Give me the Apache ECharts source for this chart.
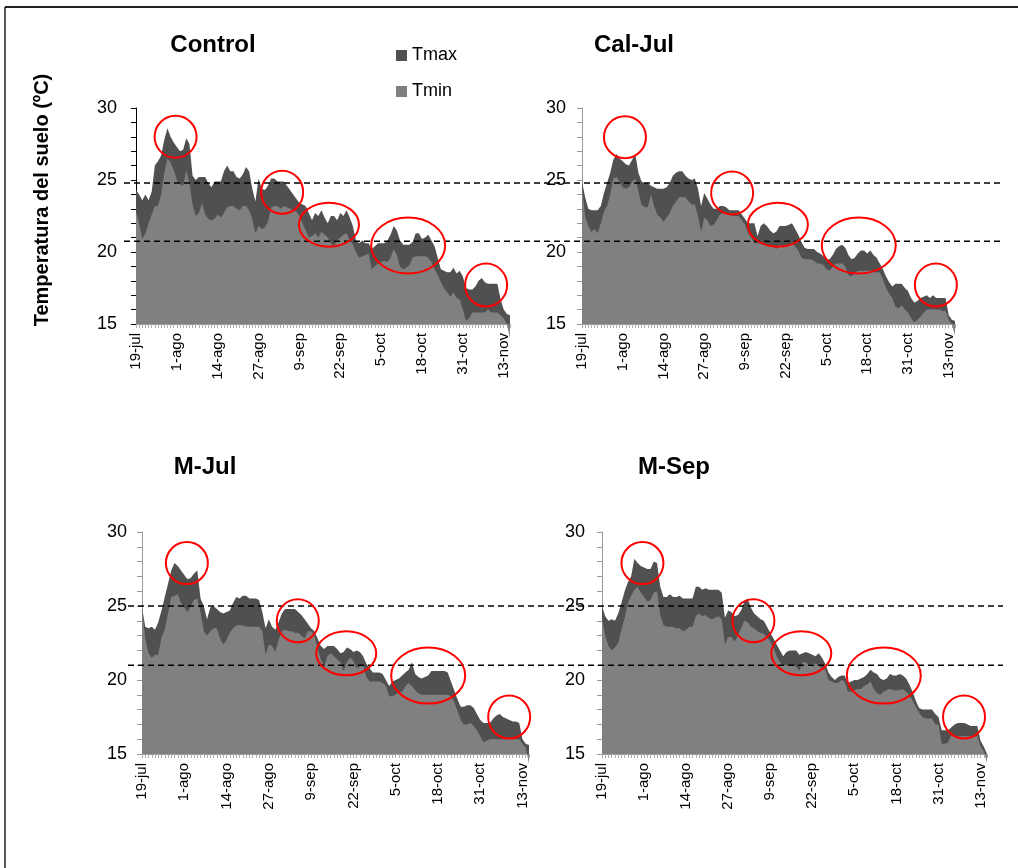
<!DOCTYPE html>
<html>
<head>
<meta charset="utf-8">
<script src="https://cdn.jsdelivr.net/npm/echarts@6/dist/echarts.min.js"></script>
<style>
  html, body { margin: 0; padding: 0; background: #fff; }
  #chart { width: 1018px; height: 868px; }
</style>
</head>
<body>
<div id="chart"></div>
<script>
// Daily soil temperature (ºC), 19 July to 15 November, four treatments.
const monthSpans = [['jul', 19, 31], ['ago', 1, 31], ['sep', 1, 30], ['oct', 1, 31], ['nov', 1, 15]];
const days = [];
monthSpans.forEach(([m, a, b]) => { for (let d = a; d <= b; d++) days.push(d + '-' + m); });

const tickLabels = ['19-jul', '1-ago', '14-ago', '27-ago', '9-sep', '22-sep', '5-oct', '18-oct', '31-oct', '13-nov'];
const seriesNames = ['Tmax', 'Tmin'];
const panelTitles = ['Control', 'Cal-Jul', 'M-Jul', 'M-Sep'];

const controlTmax = [
  24.3,24.0,23.6,24.0,23.6,24.2,26.0,26.3,26.7,27.8,
  28.6,28.0,27.6,27.3,27.0,27.1,27.9,27.5,25.3,25.0,
  25.2,25.2,25.2,24.8,24.5,24.9,24.9,24.9,25.6,26.0,
  25.6,25.6,25.2,25.1,25.4,25.9,25.6,24.4,23.5,25.1,
  24.4,24.3,24.6,25.1,25.1,24.9,24.9,24.9,24.6,24.3,
  24.0,23.7,23.4,23.3,23.2,22.7,22.2,22.7,22.5,22.9,
  22.4,22.0,22.5,22.5,22.2,22.7,22.5,22.9,22.4,21.8,
  20.8,20.6,20.8,20.6,20.6,20.2,20.4,20.6,20.6,20.6,
  20.8,21.2,21.8,21.5,20.8,20.5,20.5,20.5,20.7,21.3,
  21.3,20.9,21.0,21.2,20.8,20.4,19.6,18.8,18.7,18.6,
  18.6,18.9,18.5,18.7,18.3,17.5,17.4,17.4,17.6,18.0,
  18.2,17.9,17.8,17.8,17.8,17.8,16.7,16.0,15.7,15.6
];
const controlTmin = [
  22.8,22.0,20.9,21.3,22.0,22.6,23.2,23.2,24.0,25.5,
  26.5,26.2,25.7,25.0,24.7,24.6,25.7,24.8,23.3,22.5,
  22.7,23.4,22.6,22.3,22.2,22.3,22.6,22.4,22.7,23.1,
  23.2,23.2,23.0,22.9,23.2,23.2,22.9,22.3,21.3,21.8,
  21.6,21.7,22.1,23.1,23.2,23.2,23.0,23.2,23.1,23.0,
  22.9,22.8,22.5,22.0,21.5,21.0,21.1,21.3,21.0,21.4,
  21.2,21.0,20.6,20.4,20.8,21.0,21.2,21.3,20.8,20.5,
  20.0,19.6,19.7,19.8,19.9,18.8,19.0,19.2,19.3,19.4,
  19.3,19.6,20.2,19.8,19.0,18.8,18.9,19.1,19.6,19.7,
  19.7,19.7,19.7,19.6,19.3,18.8,18.4,17.9,17.5,17.2,
  16.9,17.2,16.8,16.7,16.0,15.2,15.4,15.8,15.8,15.8,
  15.8,15.8,16.0,15.8,15.8,15.8,15.6,15.4,15.0,14.0
];
const calJulTmax = [
  24.9,23.8,23.0,22.9,22.9,22.9,23.2,24.1,24.8,25.5,
  26.4,26.8,26.5,26.3,26.1,26.0,26.4,26.8,25.5,24.9,
  24.8,24.8,24.6,24.5,24.4,24.4,24.4,24.5,24.8,25.3,
  25.5,25.6,25.6,25.3,25.1,25.0,25.1,24.4,23.2,24.1,
  23.7,23.3,23.0,23.0,23.2,23.2,23.1,22.9,22.9,22.9,
  22.9,22.6,22.3,22.0,22.0,22.0,21.1,21.8,22.0,21.8,
  21.5,21.3,21.4,21.8,21.8,21.8,21.9,22.0,21.6,21.2,
  20.7,20.3,20.2,20.2,20.2,20.0,19.9,19.7,19.5,19.5,
  19.8,20.2,20.4,20.5,20.3,19.8,19.5,19.6,19.9,20.1,
  20.1,19.9,20.1,19.8,19.6,19.2,18.8,18.3,17.9,17.6,
  17.8,17.8,17.8,17.5,17.3,16.8,16.5,16.6,16.8,16.9,
  17.0,16.8,17.0,16.8,16.8,16.8,16.8,15.6,15.3,15.2
];
const calJulTmin = [
  24.5,22.5,21.8,21.4,21.6,21.3,22.0,22.8,23.2,24.0,
  25.1,25.2,24.9,24.5,24.4,24.5,24.9,25.1,24.2,23.3,
  23.1,23.1,24.0,23.2,22.6,22.4,22.1,22.4,22.7,23.2,
  23.5,23.8,23.8,23.8,23.5,23.3,23.3,22.5,21.4,22.4,
  22.2,21.8,21.9,22.2,22.6,22.7,22.7,22.6,22.5,22.5,
  22.5,22.2,21.9,21.3,21.0,20.6,20.6,20.6,20.6,20.5,
  20.5,20.4,20.2,20.5,20.4,20.4,20.5,20.6,20.4,20.1,
  19.6,19.5,19.5,19.5,19.4,19.2,19.2,19.1,18.8,18.7,
  19.0,19.2,19.2,19.2,19.0,18.4,18.3,18.5,18.7,18.7,
  18.7,18.7,18.7,18.6,18.6,18.6,18.1,17.5,17.1,16.8,
  16.2,16.1,16.3,16.0,15.8,15.4,15.1,15.3,15.5,15.8,
  16.0,16.0,16.0,16.0,16.0,15.9,15.9,15.3,15.0,14.2
];
const mJulTmax = [
  24.9,23.6,23.5,23.6,23.4,23.9,24.7,25.6,26.5,27.4,
  27.9,27.7,27.4,27.1,26.8,26.9,27.2,27.4,25.5,25.0,
  24.1,24.9,25.0,24.8,24.6,24.5,24.6,24.7,25.2,25.6,
  25.5,25.7,25.7,25.5,25.5,25.5,25.4,24.6,23.5,24.1,
  23.6,23.4,23.9,24.5,24.8,24.8,24.8,24.8,24.6,24.4,
  24.1,23.8,23.5,23.3,22.8,22.3,22.1,22.3,22.3,22.3,
  22.1,21.8,21.9,22.2,22.1,21.9,22.0,21.9,21.6,21.1,
  20.8,20.5,20.5,20.5,20.4,20.0,19.6,19.9,20.0,20.1,
  20.3,20.5,20.7,21.2,20.4,20.2,20.1,20.2,20.3,20.6,
  20.6,20.6,20.6,20.6,20.5,19.9,19.3,18.7,18.2,18.2,
  18.3,18.3,18.1,17.7,17.3,17.1,17.1,17.1,17.4,17.6,
  17.7,17.5,17.4,17.3,17.2,17.2,17.1,16.0,15.7,15.6
];
const mJulTmin = [
  24.7,22.8,21.8,21.5,21.7,21.7,22.9,23.4,24.5,25.6,
  25.7,25.8,25.2,24.9,24.6,25.0,25.4,25.5,24.6,23.3,
  23.0,23.3,23.5,23.5,22.8,22.4,22.7,23.2,23.5,23.7,
  23.7,23.7,23.6,23.6,23.6,23.6,23.6,23.3,21.7,22.4,
  22.3,21.9,22.7,23.3,23.4,23.3,23.3,23.2,23.2,23.0,
  22.8,23.3,23.3,23.0,22.1,21.4,20.9,21.6,21.8,21.6,
  21.4,21.2,20.6,21.2,21.5,21.3,20.8,20.9,21.0,20.2,
  19.9,19.9,19.9,19.9,19.8,19.6,18.9,18.9,19.0,19.2,
  19.2,19.6,19.8,19.6,19.3,19.1,19.0,19.0,19.0,19.0,
  19.0,19.0,19.0,19.0,19.0,18.9,18.5,17.9,17.3,17.0,
  17.0,17.1,16.9,16.6,16.2,15.8,15.9,16.0,16.0,16.0,
  16.0,16.0,16.0,16.0,16.0,16.0,16.0,15.7,15.4,14.3
];
const mSepTmax = [
  25.0,24.3,24.0,24.1,24.0,24.5,25.2,26.0,26.6,27.0,
  28.2,27.9,27.7,27.6,27.5,27.5,28.0,27.9,26.3,25.6,
  25.6,25.8,25.6,25.6,25.7,25.5,25.5,25.5,25.5,26.3,
  26.3,26.1,26.2,26.1,26.1,26.1,26.1,25.9,24.2,24.7,
  24.6,24.3,24.4,24.7,25.3,25.5,24.9,24.5,24.3,24.1,
  24.0,23.6,23.2,22.8,22.4,22.0,21.6,21.9,22.0,22.0,
  22.0,21.7,21.8,21.9,21.8,21.7,21.6,21.8,21.5,21.1,
  20.5,20.2,20.0,20.2,20.3,20.3,19.8,19.9,20.0,20.0,
  20.1,20.2,20.4,20.7,20.5,20.4,20.1,20.0,20.1,20.4,
  20.3,20.3,20.4,20.3,20.1,19.7,19.2,18.6,18.1,18.0,
  18.0,18.0,18.0,17.7,17.5,16.6,16.6,16.6,16.8,17.0,
  17.1,17.1,17.1,17.0,16.9,16.9,16.9,15.9,15.5,15.0
];
const mSepTmin = [
  24.1,23.0,22.3,22.0,22.2,22.5,23.4,24.2,25.2,25.7,
  26.1,26.3,25.9,25.6,25.3,25.4,25.9,26.0,24.4,23.7,
  23.6,23.6,23.6,23.5,23.5,23.3,23.4,23.6,23.6,24.3,
  24.5,24.3,24.4,24.2,24.1,24.2,24.3,24.1,22.4,22.9,
  22.9,22.6,23.0,23.5,24.0,23.9,23.6,23.5,23.3,23.2,
  23.1,22.9,22.6,22.2,21.6,21.2,21.0,21.0,21.0,21.0,
  20.9,20.6,21.2,21.2,21.0,21.1,21.1,21.0,20.8,20.7,
  20.0,19.9,19.8,19.8,20.0,19.9,19.2,19.2,19.3,19.4,
  19.4,19.6,19.7,19.9,19.4,19.1,19.0,19.2,19.3,19.4,
  19.3,19.3,19.3,19.4,19.2,19.0,18.6,18.2,17.8,17.5,
  17.4,17.4,17.4,17.0,17.0,15.7,15.7,15.8,16.3,16.2,
  16.2,16.2,16.2,16.2,16.2,16.2,16.2,15.5,15.2,14.4
];

// Highlighted periods per panel: [day index, temperature] centres of the red rings.
const controlRings = [[12.6, 28.0], [46.5, 24.15], [61.4, 21.9], [86.6, 20.45], [111.4, 17.7]];
const calJulRings  = [[13.7, 27.97], [47.9, 24.1], [62.5, 21.9], [88.3, 20.45], [112.9, 17.7]];
const mJulRings    = [[13.8, 27.9], [47.9, 24.0], [62.8, 21.8], [88.0, 20.3], [112.9, 17.5]];
const mSepRings    = [[12.5, 27.9], [46.8, 24.0], [61.6, 21.8], [87.1, 20.3], [111.9, 17.5]];
// Reference temperature guides for the upper and lower rows.
const guidesTopRow = [24.8, 20.75];
const guidesBottomRow = [25, 21];

const FONT = '"Liberation Sans", Arial, Helvetica, sans-serif';
const DARK = '#505050';
const LIGHT = '#808080';

const panels = [
  { title: panelTitles[0], tmax: controlTmax, tmin: controlTmin, rings: controlRings,
    grid: { left: 136, top: 108, width: 374, height: 216 }, axisColor: '#000', labelMargin: 19, titlePos: [213, 45] },
  { title: panelTitles[1], tmax: calJulTmax, tmin: calJulTmin, rings: calJulRings,
    grid: { left: 582, top: 108, width: 373, height: 216 }, axisColor: '#999', labelMargin: 16, titlePos: [634, 45] },
  { title: panelTitles[2], tmax: mJulTmax, tmin: mJulTmin, rings: mJulRings,
    grid: { left: 142, top: 532, width: 387, height: 222 }, axisColor: '#999', labelMargin: 15, titlePos: [205, 467] },
  { title: panelTitles[3], tmax: mSepTmax, tmin: mSepTmin, rings: mSepRings,
    grid: { left: 602, top: 532, width: 385, height: 222 }, axisColor: '#999', labelMargin: 17, titlePos: [674, 467] }
];
const ringSizes = [[21, 21], [21, 21.5], [30, 22], [37, 28], [21, 21.5]];

const chart = echarts.init(document.getElementById('chart'), null, { renderer: 'canvas' });

const option = {
  animation: false,
  backgroundColor: '#fff',
  textStyle: { fontFamily: FONT },
  legend: {
    data: seriesNames,
    orient: 'vertical',
    left: 391, top: 41,
    icon: 'rect', itemWidth: 11, itemHeight: 11, itemGap: 17,
    selectedMode: false,
    textStyle: { fontSize: 18, color: '#000', fontFamily: FONT, lineHeight: 19 }
  },
  grid: panels.map(p => Object.assign({ containLabel: false }, p.grid)),
  xAxis: panels.map((p, i) => ({
    gridIndex: i, type: 'category', data: days, boundaryGap: false,
    axisLine: { show: true, lineStyle: { color: '#999', width: 1 } },
    axisTick: { show: true, interval: 0, length: 4, lineStyle: { color: '#aaa' } },
    axisLabel: {
      interval: (idx, val) => tickLabels.includes(val),
      rotate: 90, fontSize: 15, color: '#000', margin: 9, fontFamily: FONT
    },
    splitLine: { show: false }
  })),
  yAxis: panels.map((p, i) => ({
    gridIndex: i, type: 'value', min: 15, max: 30, interval: 5,
    axisLine: { show: true, lineStyle: { color: p.axisColor, width: 1 } },
    axisTick: { show: true, length: 5, lineStyle: { color: p.axisColor } },
    minorTick: { show: true, splitNumber: 5, length: 5, lineStyle: { color: p.axisColor } },
    splitLine: { show: false },
    axisLabel: { fontSize: 18, color: '#000', margin: p.labelMargin, fontFamily: FONT }
  })),
  series: panels.flatMap((p, i) => [
    { name: seriesNames[0], type: 'line', xAxisIndex: i, yAxisIndex: i, data: p.tmax,
      symbol: 'none', clip: false, silent: true, z: 2,
      itemStyle: { color: DARK }, lineStyle: { width: 0, color: DARK },
      areaStyle: { color: DARK, opacity: 1 } },
    { name: seriesNames[1], type: 'line', xAxisIndex: i, yAxisIndex: i, data: p.tmin,
      symbol: 'none', clip: false, silent: true, z: 3,
      itemStyle: { color: LIGHT }, lineStyle: { width: 0, color: LIGHT },
      areaStyle: { color: LIGHT, opacity: 1 } }
  ])
};
chart.setOption(option);

// Pixel position of a (fractional day, value) point in one panel.
function toPixel(gridIndex, day, value) {
  const d0 = Math.floor(day), d1 = Math.min(d0 + 1, days.length - 1);
  const p0 = chart.convertToPixel({ gridIndex }, [d0, value]);
  const p1 = chart.convertToPixel({ gridIndex }, [d1, value]);
  const t = day - d0;
  return [p0[0] + (p1[0] - p0[0]) * t, p0[1]];
}

const graphics = [];

// Outer frame (top and left edges).
graphics.push({ type: 'line', shape: { x1: 5, y1: 7, x2: 1018, y2: 7 },
  style: { stroke: '#222', lineWidth: 2 }, z: 50 });
graphics.push({ type: 'line', shape: { x1: 5, y1: 7, x2: 5, y2: 868 },
  style: { stroke: '#222', lineWidth: 1.5 }, z: 50 });

// Shared y-axis title.
graphics.push({ type: 'text', x: 42, y: 200, rotation: Math.PI / 2,
  style: { text: 'Temperatura del suelo (ºC)', font: 'bold 20px ' + FONT, fill: '#000',
    textAlign: 'center', textVerticalAlign: 'middle' }, z: 50 });

// Panel titles.
panels.forEach(p => {
  graphics.push({ type: 'text', x: p.titlePos[0], y: p.titlePos[1],
    style: { text: p.title, font: 'bold 24px ' + FONT, fill: '#000',
      textAlign: 'center', textVerticalAlign: 'middle' }, z: 50 });
});

// Dashed reference lines spanning each row of panels.
[[0, guidesTopRow, 124], [2, guidesBottomRow, 128]].forEach(([g, vals, x0]) => {
  vals.forEach(v => {
    const y = chart.convertToPixel({ gridIndex: g }, [0, v])[1];
    graphics.push({ type: 'line', shape: { x1: x0, y1: y, x2: 1003, y2: y },
      style: { stroke: '#000', lineWidth: 1.5, lineDash: [6, 4] }, z: 40 });
  });
});

// Red rings marking the highlighted periods.
panels.forEach((p, gi) => {
  p.rings.forEach((r, k) => {
    const c = toPixel(gi, r[0], r[1]);
    graphics.push({ type: 'ellipse',
      shape: { cx: c[0], cy: c[1], rx: ringSizes[k][0], ry: ringSizes[k][1] },
      style: { fill: null, stroke: '#ff0000', lineWidth: 2 }, z: 45 });
  });
});

chart.setOption({ graphic: graphics });
</script>
</body>
</html>
